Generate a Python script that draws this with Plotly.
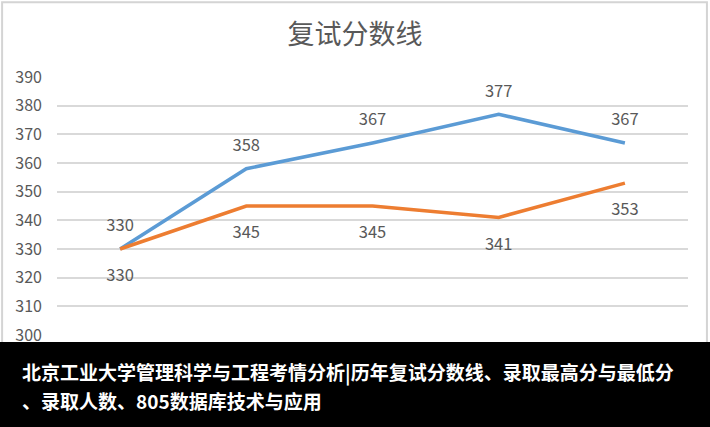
import plotly.graph_objects as go

# 年份（横轴被底部说明条遮住）
years = ["2019", "2020", "2021", "2022", "2023"]
score_high = [330, 358, 367, 377, 367]
score_low = [330, 345, 345, 341, 353]
y_ticks = [300, 310, 320, 330, 340, 350, 360, 370, 380, 390]

title_text = "复试分数线"
caption_line1 = "北京工业大学管理科学与工程考情分析|历年复试分数线、录取最高分与最低分"
caption_line2 = "、录取人数、805数据库技术与应用"

font_cn = "Noto Sans CJK SC"
gray = "#595959"

fig = go.Figure()

fig.add_trace(go.Scatter(
    x=years, y=score_high,
    mode="lines+markers+text",
    line=dict(color="#5B9BD5", width=3.5),
    marker=dict(size=20, opacity=0),
    text=[str(v) for v in score_high],
    textposition="top center",
    textfont=dict(family=font_cn, size=16.5, color=gray),
    hoverinfo="skip",
    showlegend=False,
))

fig.add_trace(go.Scatter(
    x=years, y=score_low,
    mode="lines+markers+text",
    line=dict(color="#ED7D31", width=3.5),
    marker=dict(size=30, opacity=0),
    text=[str(v) for v in score_low],
    textposition="bottom center",
    textfont=dict(family=font_cn, size=16.5, color=gray),
    hoverinfo="skip",
    showlegend=False,
))

# 底部黑色说明条
fig.add_shape(type="rect", xref="paper", yref="paper",
              x0=-0.2, x1=1.2, y0=-0.5, y1=-0.027,
              fillcolor="black", line=dict(width=0), layer="above")

# 外框
fig.add_shape(type="rect", xref="paper", yref="paper",
              x0=-0.087, x1=1.030, y0=-0.4, y1=1.29,
              line=dict(color="#d4d4d4", width=2), layer="below")

fig.add_annotation(text=caption_line1, xref="paper", yref="paper",
                   x=-0.0586, y=-0.143, xanchor="left", yanchor="middle",
                   showarrow=False,
                   font=dict(family=font_cn, size=19, color="white", weight="bold"))
fig.add_annotation(text=caption_line2, xref="paper", yref="paper",
                   x=-0.0586, y=-0.252, xanchor="left", yanchor="middle",
                   showarrow=False,
                   font=dict(family=font_cn, size=19, color="white", weight="bold"))

fig.update_layout(
    width=710, height=427,
    title=dict(text=title_text, x=0.5, xanchor="center", y=0.918, yanchor="middle",
               font=dict(family=font_cn, size=27, color=gray)),
    paper_bgcolor="white",
    plot_bgcolor="white",
    margin=dict(l=57, r=22, t=77, b=92),
    xaxis=dict(range=[-0.5, len(years) - 0.5], showgrid=False, showline=False,
               ticks="", showticklabels=False),
    yaxis=dict(range=[300, 390], tickvals=y_ticks,
               gridcolor="#d9d9d9", gridwidth=1.5, zeroline=False,
               ticklabelstandoff=14,
               tickfont=dict(family=font_cn, size=16, color=gray)),
)

# 去掉页面默认的 body 边距
fig.write_html("out.html", config={"displayModeBar": False},
               post_script="document.body.style.margin='0';")
